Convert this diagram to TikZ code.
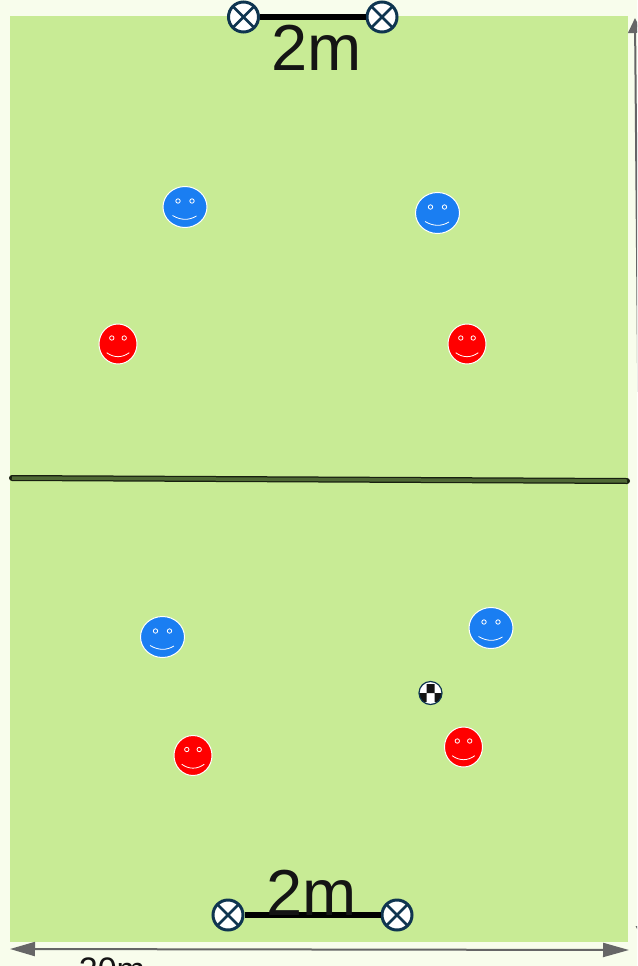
\documentclass[tikz,border=0pt]{standalone}
\usepackage{fontspec}
\setmainfont{Liberation Sans}
\usetikzlibrary{arrows.meta,shapes.geometric}
\definecolor{paper}{HTML}{F8FDEC}
\definecolor{grass}{HTML}{C8EB95}
\definecolor{postblue}{HTML}{0F3550}
\definecolor{netgreen}{HTML}{4F6835}
\definecolor{teamblue}{HTML}{1A7EF2}
\definecolor{inkgray}{HTML}{666666}
\definecolor{inkblack}{HTML}{141414}
\begin{document}
\begin{tikzpicture}[x=1pt, y=-1pt,
	bigtext/.style={inner sep=0pt, text=inkblack, font=\fontsize{65}{65}\selectfont},
	dimtext/.style={inner sep=0pt, text=inkblack, font=\fontsize{34}{34}\selectfont},
	post/.style={draw=postblue, line width=3pt, fill=white, circle, minimum size=30pt, inner sep=0pt,
		path picture={\draw[postblue, line width=2.5pt] (path picture bounding box.north west) -- (path picture bounding box.south east) (path picture bounding box.north east) -- (path picture bounding box.south west);}},
	bluep/.style={draw=white, line width=1pt, ellipse, fill=teamblue, minimum width=44pt, minimum height=41pt, inner sep=0pt},
	redp/.style={draw=white, line width=1pt, ellipse, fill=red, minimum width=38pt, minimum height=40pt, inner sep=0pt},
	feature/.style={draw=white, line width=0.8pt},
	dimline/.style={draw=inkgray, line width=2pt},
	ball/.style={draw=postblue, line width=1.2pt, circle, fill=white, minimum size=23pt, inner sep=0pt,
		path picture={\fill[inkblack] (-4,-9) rectangle (4,0) (-12,0) rectangle (-4,9) (4,0) rectangle (12,9);}}]
	\useasboundingbox (0,0) rectangle (637,966);
	\clip (0,0) rectangle (637,966);
	\fill[paper] (0,0) rectangle (637,966);
	\fill[grass] (10,16) rectangle (628,942);
	% net
	\coordinate (netL) at (12,478); \coordinate (netR) at (627,481);
	\draw[black!70!netgreen, line width=6pt, line cap=round] (netL) -- (netR);
	\draw[netgreen, line width=3.5pt] (netL) -- (netR);
	% goals
	\node[post] (PA) at (243.5,17) {}; \node[post] (PB) at (382,17) {};
	\node[post] (PC) at (228,915) {}; \node[post] (PD) at (397,915) {};
	\draw[black, line width=5.5pt] (PA) -- (PB);
	\draw[black, line width=5.5pt] (PC) -- (PD);
	\node[bigtext] (topgoal) at (317,48) {2m};
	\node[bigtext] (botgoal) at (312,893) {2m};
	% dimensions
	\coordinate (hL) at (10,949); \coordinate (hR) at (629,950);
	\coordinate (vT) at (635,18); \coordinate (vB) at (643,941);
	\draw[dimline, {Triangle[length=25pt,width=14pt]}-{Triangle[length=26pt,width=14pt]}] (hL) -- (hR);
	\draw[dimline, {Triangle[length=15pt,width=14pt]}-{Triangle[length=15pt,width=14pt]}] (vT) -- (vB);
	\node[dimtext, anchor=base] (width) at (112,981) {20m};
	% players
	\foreach \n/\a/\b in {B1/185/207, B2/437.5/213, B3/162.5/637, B4/491/628} {
		\node[bluep] (\n) at (\a,\b) {};
		\begin{scope}[shift={(\a,\b)}]
			\draw[feature] (-7,-6) circle (2.2) (7,-6) circle (2.2);
			\draw[feature] (-12.5,8.5) .. controls (-4,13.5) and (4,13.5) .. (11.5,9);
		\end{scope}
	}
	\foreach \n/\a/\b in {R1/118/344, R2/467/344, R3/193/755.5, R4/463.5/747} {
		\node[redp] (\n) at (\a,\b) {};
		\begin{scope}[shift={(\a,\b)}]
			\draw[feature] (-6.2,-6) circle (2.2) (6.2,-6) circle (2.2);
			\draw[feature] (-11.3,8.7) .. controls (-4,14) and (4,14) .. (11.3,8.7);
		\end{scope}
	}
	\node[ball] (soccer) at (430.5,693) {};
\end{tikzpicture}
\end{document}
